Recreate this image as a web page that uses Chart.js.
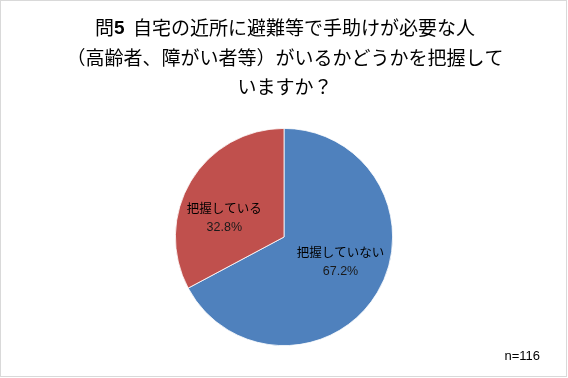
<!DOCTYPE html>
<html>
<head>
<meta charset="utf-8">
<script src="https://cdn.jsdelivr.net/npm/chart.js@4"></script>
<style>
  html, body { margin: 0; padding: 0; background: #fff; }
  #wrap { width: 568px; height: 378px; position: relative; }
</style>
</head>
<body>
<div id="wrap"><canvas id="chart" width="568" height="378"></canvas></div>
<script>
// data
const categories = ["把握していない", "把握している"];
const percentValues = [67.2, 32.8];
const sliceColors = ["#4F81BD", "#C0504D"];
const titleLines = ["問5  自宅の近所に避難等で手助けが必要な人", "（高齢者、障がい者等）がいるかどうかを把握して", "いますか？"];
const sampleNote = "n=116";

const jpFont = '"Noto Sans CJK JP", "Noto Sans", sans-serif';
const numFont = '"Liberation Sans", Arial, sans-serif';

// label anchor offsets as fractions of the radius (like Excel puts them)
const labelOffsets = [[0.52, 0.23], [-0.55, -0.18]];

// frame, title and n= note
const decorPlugin = {
  id: "decor",
  beforeDraw(chart) {
    const ctx = chart.ctx;
    ctx.save();
    ctx.fillStyle = "#fff";
    ctx.fillRect(0, 0, chart.width, chart.height);
    ctx.strokeStyle = "#d9d9d9";
    ctx.lineWidth = 1;
    ctx.strokeRect(0.5, 0.5, chart.width - 2, chart.height - 2);
    ctx.restore();
  },
  afterDraw(chart) {
    const ctx = chart.ctx;
    const cx = 285;
    ctx.save();
    ctx.fillStyle = "#000";
    ctx.textBaseline = "middle";
    titleLines.forEach((line, i) => {
      const y = 28 + i * 29.5;
      if (i === 0) {
        // "5" is bold latin in the original
        const head = line.slice(0, 1), five = line.slice(1, 2), rest = line.slice(2);
        ctx.font = "19px " + jpFont;
        const wHead = ctx.measureText(head).width;
        const wRest = ctx.measureText(rest).width;
        ctx.font = "bold 19px " + numFont;
        const wFive = ctx.measureText(five).width;
        let x = cx - (wHead + wFive + wRest) / 2;
        ctx.textAlign = "left";
        ctx.font = "19px " + jpFont;
        ctx.fillText(head, x, y);
        x += wHead;
        ctx.font = "bold 19px " + numFont;
        ctx.fillText(five, x, y + 1);
        x += wFive;
        ctx.font = "19px " + jpFont;
        ctx.fillText(rest, x, y);
      } else {
        ctx.textAlign = "center";
        ctx.font = "19px " + jpFont;
        ctx.fillText(line, cx, y);
      }
    });
    ctx.font = "13px " + numFont;
    ctx.textAlign = "right";
    ctx.fillStyle = "#000";
    ctx.fillText(sampleNote, 540, 356);
    ctx.restore();
  }
};

// category name + percent inside each slice
const sliceLabelPlugin = {
  id: "sliceLabels",
  afterDatasetsDraw(chart) {
    const ctx = chart.ctx;
    const meta = chart.getDatasetMeta(0);
    ctx.save();
    ctx.textAlign = "center";
    ctx.textBaseline = "middle";
    meta.data.forEach((arc, i) => {
      const r = arc.outerRadius;
      const x = arc.x + labelOffsets[i][0] * r;
      const y = arc.y + labelOffsets[i][1] * r;
      ctx.fillStyle = "#000";
      ctx.font = "12.5px " + jpFont;
      ctx.fillText(categories[i], x, y - 9.5);
      ctx.fillStyle = "#1a1a1a";
      ctx.font = "12.5px " + numFont;
      ctx.fillText(percentValues[i].toFixed(1) + "%", x, y + 10);
    });
    ctx.restore();
  }
};

new Chart(document.getElementById("chart").getContext("2d"), {
  type: "pie",
  data: {
    labels: categories,
    datasets: [{
      data: percentValues,
      backgroundColor: sliceColors,
      borderColor: "#ffffff",
      borderWidth: 0.8
    }]
  },
  options: {
    responsive: false,
    animation: false,
    layout: { padding: { top: 128, bottom: 32, left: 175, right: 175 } },
    plugins: {
      legend: { display: false },
      tooltip: { enabled: false },
      title: { display: false }
    }
  },
  plugins: [decorPlugin, sliceLabelPlugin]
});
</script>
</body>
</html>
